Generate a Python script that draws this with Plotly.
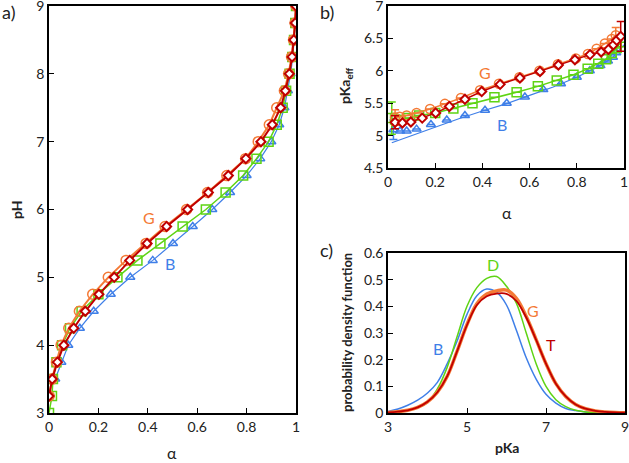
import plotly.graph_objects as go

# ---------------- data ----------------
# panel a: pH vs alpha
pH_levels = [3.0, 3.25, 3.5, 3.75, 4.0, 4.25, 4.5, 4.75, 5.0, 5.25, 5.5, 5.75, 6.0,
             6.25, 6.5, 6.75, 7.0, 7.25, 7.5, 7.75, 8.0, 8.25, 8.5, 8.75, 9.0]
a_B = [None, None, 0.025, 0.05, 0.078, 0.125, 0.181, 0.25, 0.329, 0.42, 0.502, 0.582, 0.661,
       0.733, 0.80, 0.855, 0.90, 0.932, 0.953, 0.967, 0.978, 0.987, 0.993, 0.997, 1.0]
a_D = [0.0, 0.012, 0.016, 0.03, 0.053, 0.085, 0.132, 0.2, 0.277, 0.358, 0.451, 0.541, 0.635,
       0.715, 0.786, 0.84, 0.889, 0.922, 0.946, 0.96, 0.974, 0.985, 0.992, 0.997, 1.0]
a_G = [None, 0.001, 0.012, 0.03, 0.049, 0.08, 0.123, 0.177, 0.24, 0.312, 0.393, 0.47, 0.557,
       0.642, 0.72, 0.796, 0.847, 0.892, 0.922, 0.953, 0.97, 0.982, 0.99, 0.996, 1.0]
a_T = [None, 0.0, 0.013, 0.034, 0.06, 0.10, 0.147, 0.202, 0.264, 0.327, 0.397, 0.476, 0.561,
       0.645, 0.726, 0.797, 0.858, 0.904, 0.938, 0.957, 0.973, 0.984, 0.991, 0.997, 1.0]

# panel b: pKa_eff vs alpha
b_B_a = [0.023, 0.051, 0.079, 0.121, 0.182, 0.249, 0.326, 0.411, 0.503, 0.58, 0.658, 0.733,
         0.80, 0.855, 0.90, 0.932, 0.953, 0.967]
b_B_v = [5.09, 5.07, 5.07, 5.10, 5.17, 5.24, 5.31, 5.39, 5.50, 5.595, 5.71, 5.80,
         5.90, 6.0, 6.08, 6.15, 6.21, 6.28]
b_B_err = [0.15] + [None] * 17
b_Bfit_a = [0.016, 0.1, 0.2, 0.3, 0.4, 0.5, 0.6, 0.7, 0.8, 0.9, 0.95, 1.0]
b_Bfit_v = [4.89, 5.0, 5.13, 5.26, 5.38, 5.49, 5.62, 5.75, 5.9, 6.08, 6.2, 6.4]

b_D_a = [0.016, 0.03, 0.053, 0.085, 0.132, 0.2, 0.277, 0.358, 0.451, 0.545, 0.635, 0.715,
         0.786, 0.846, 0.891, 0.924, 0.948, 0.969, 0.985]
b_D_v = [5.27, 5.25, 5.24, 5.27, 5.31, 5.35, 5.42, 5.50, 5.59, 5.67, 5.76, 5.85,
         5.94, 6.03, 6.11, 6.18, 6.27, 6.35, 6.44]
b_D_err = [0.25] + [None] * 18

b_G_a = [0.03, 0.049, 0.079, 0.121, 0.178, 0.241, 0.309, 0.39, 0.47, 0.557, 0.642, 0.72,
         0.796, 0.847, 0.884, 0.919, 0.948, 0.965]
b_G_v = [5.28, 5.29, 5.31, 5.35, 5.41, 5.49, 5.58, 5.70, 5.80, 5.90, 6.00, 6.10,
         6.19, 6.26, 6.34, 6.42, 6.49, 6.55]
b_G_err = [0.12] + [None] * 16 + [0.12]

b_T_a = [0.030, 0.061, 0.097, 0.145, 0.202, 0.26, 0.326, 0.397, 0.475, 0.559, 0.644, 0.722,
         0.792, 0.856, 0.903, 0.934, 0.955, 0.969, 0.986]
b_T_v = [5.205, 5.195, 5.21, 5.27, 5.35, 5.45, 5.56, 5.68, 5.79, 5.89, 5.99, 6.09,
         6.17, 6.25, 6.29, 6.33, 6.40, 6.47, 6.53]
b_T_err = [0.1] + [None] * 17 + [0.23]

# panel c: probability density function vs pKa
pKa_grid = [3.0, 3.25, 3.5, 3.75, 4.0, 4.25, 4.5, 4.75, 5.0, 5.25, 5.5, 5.75, 6.0,
            6.25, 6.5, 6.75, 7.0, 7.25, 7.5, 7.75, 8.0, 8.25, 8.5, 8.75, 9.0]
pdf_B = [0.006, 0.015, 0.029, 0.048, 0.075, 0.115, 0.185, 0.27, 0.37, 0.44, 0.465, 0.453, 0.405,
         0.31, 0.207, 0.127, 0.07, 0.037, 0.017, 0.009, 0.004, 0.002, 0.001, 0.0, 0.0]
pdf_D = [0.002, 0.005, 0.01, 0.02, 0.04, 0.09, 0.172, 0.287, 0.40, 0.47, 0.505, 0.512, 0.475,
         0.412, 0.30, 0.185, 0.10, 0.05, 0.024, 0.01, 0.004, 0.002, 0.001, 0.0, 0.0]
pdf_G = [0.002, 0.005, 0.01, 0.021, 0.042, 0.078, 0.138, 0.232, 0.332, 0.41, 0.446, 0.458, 0.461,
         0.43, 0.362, 0.275, 0.185, 0.11, 0.062, 0.032, 0.016, 0.008, 0.004, 0.002, 0.001]
pdf_T = [0.002, 0.005, 0.01, 0.021, 0.042, 0.078, 0.138, 0.232, 0.33, 0.405, 0.438, 0.448, 0.447,
         0.42, 0.358, 0.274, 0.185, 0.11, 0.062, 0.032, 0.016, 0.008, 0.004, 0.002, 0.001]

# ---------------- style ----------------
C_B = "#3f7fe8"
C_D = "#5ed414"
C_G = "#f47a36"
C_T = "#c00000"
FONT = "Lato"
W, H = 629, 463

fig = go.Figure()

def err(arr, color):
    return dict(type="data", array=arr, visible=True, color=color, thickness=1.5, width=4)

# ---- panel a ----
fig.add_trace(go.Scatter(x=a_B, y=pH_levels, mode="lines+markers", xaxis="x", yaxis="y",
                         line=dict(color=C_B, width=1.2),
                         marker=dict(symbol="triangle-up-open", size=8, color=C_B, line=dict(width=1.5))))
fig.add_trace(go.Scatter(x=a_D, y=pH_levels, mode="lines+markers", xaxis="x", yaxis="y",
                         line=dict(color=C_D, width=1.5),
                         marker=dict(symbol="square-open", size=9, color=C_D, line=dict(width=1.5))))
fig.add_trace(go.Scatter(x=a_G, y=pH_levels, mode="lines+markers", xaxis="x", yaxis="y",
                         line=dict(color=C_G, width=2),
                         marker=dict(symbol="circle-open", size=10, color=C_G, line=dict(width=1.5))))
fig.add_trace(go.Scatter(x=a_T, y=pH_levels, mode="lines+markers", xaxis="x", yaxis="y",
                         line=dict(color=C_T, width=2),
                         marker=dict(symbol="diamond", size=7, color="white", line=dict(width=2, color=C_T))))

# ---- panel b ----
fig.add_trace(go.Scatter(x=b_Bfit_a, y=b_Bfit_v, mode="lines", xaxis="x2", yaxis="y2",
                         line=dict(color=C_B, width=1.2)))
fig.add_trace(go.Scatter(x=b_B_a, y=b_B_v, mode="markers", xaxis="x2", yaxis="y2",
                         error_y=err(b_B_err, C_B),
                         marker=dict(symbol="triangle-up-open", size=8, color=C_B, line=dict(width=1.5))))
fig.add_trace(go.Scatter(x=b_D_a, y=b_D_v, mode="lines+markers", xaxis="x2", yaxis="y2",
                         error_y=err(b_D_err, C_D),
                         line=dict(color=C_D, width=1.5),
                         marker=dict(symbol="square-open", size=9, color=C_D, line=dict(width=1.5))))
fig.add_trace(go.Scatter(x=b_G_a, y=b_G_v, mode="lines+markers", xaxis="x2", yaxis="y2",
                         error_y=err(b_G_err, C_G),
                         line=dict(color=C_G, width=1.5),
                         marker=dict(symbol="circle-open", size=9, color=C_G, line=dict(width=1.5))))
fig.add_trace(go.Scatter(x=b_T_a, y=b_T_v, mode="lines+markers", xaxis="x2", yaxis="y2",
                         error_y=err(b_T_err, C_T),
                         line=dict(color=C_T, width=1.5),
                         marker=dict(symbol="diamond", size=7, color="white", line=dict(width=2, color=C_T))))

# ---- panel c ----
fig.add_trace(go.Scatter(x=pKa_grid, y=pdf_B, mode="lines", xaxis="x3", yaxis="y3",
                         line=dict(color=C_B, width=1.5, shape="spline")))
fig.add_trace(go.Scatter(x=pKa_grid, y=pdf_D, mode="lines", xaxis="x3", yaxis="y3",
                         line=dict(color=C_D, width=1.5, shape="spline")))
fig.add_trace(go.Scatter(x=pKa_grid, y=pdf_G, mode="lines", xaxis="x3", yaxis="y3",
                         line=dict(color=C_G, width=3.5, shape="spline")))
fig.add_trace(go.Scatter(x=pKa_grid, y=pdf_T, mode="lines", xaxis="x3", yaxis="y3",
                         line=dict(color=C_T, width=1.8, shape="spline")))

def px_x(p):
    return p / W

def px_y(p):
    return 1 - p / H

axis_common = dict(showline=True, linecolor="black", linewidth=1.5, mirror=True,
                   ticks="inside", ticklen=5, tickwidth=1.2, tickcolor="black",
                   showgrid=False, zeroline=False, automargin=False,
                   ticklabeloverflow="allow",
                   tickfont=dict(family=FONT, size=14, color="#222"))

fig.update_layout(
    width=W, height=H, margin=dict(l=0, r=0, t=0, b=0, autoexpand=False),
    paper_bgcolor="white", plot_bgcolor="white", showlegend=False,
    font=dict(family=FONT, color="#222"),
    xaxis=dict(domain=[px_x(49), px_x(296)], range=[0, 1], anchor="y",
               tickvals=[0, 0.2, 0.4, 0.6, 0.8, 1], ticktext=["0", "0.2", "0.4", "0.6", "0.8", "1"],
               **axis_common),
    yaxis=dict(domain=[px_y(413), px_y(6)], range=[3, 9], anchor="x", dtick=1, **axis_common),
    xaxis2=dict(domain=[px_x(388), px_x(624)], range=[0, 1], anchor="y2",
                tickvals=[0, 0.2, 0.4, 0.6, 0.8, 1], ticktext=["0", "0.2", "0.4", "0.6", "0.8", "1"],
                **axis_common),
    yaxis2=dict(domain=[px_y(168), px_y(6)], range=[4.5, 7], anchor="x2",
                tickvals=[4.5, 5, 5.5, 6, 6.5, 7], ticktext=["4.5", "5", "5.5", "6", "6.5", "7"],
                **axis_common),
    xaxis3=dict(domain=[px_x(388), px_x(625)], range=[3, 9], anchor="y3",
                tickvals=[3, 5, 7, 9], **axis_common),
    yaxis3=dict(domain=[px_y(413), px_y(253)], range=[0, 0.6], anchor="x3",
                tickvals=[0, 0.1, 0.2, 0.3, 0.4, 0.5, 0.6],
                ticktext=["0", "0.1", "0.2", "0.3", "0.4", "0.5", "0.6"], **axis_common),
)

def ann(text, x, y, size=14, color="#222", bold=False, angle=0, xanchor="center"):
    t = f"<b>{text}</b>" if bold else text
    fig.add_annotation(text=t, x=px_x(x), y=px_y(y), xref="paper", yref="paper",
                       showarrow=False, xanchor=xanchor, yanchor="middle", textangle=angle,
                       font=dict(family=FONT, size=size, color=color))

# panel letters
ann("a)", 0, 12, size=18, xanchor="left")
ann("b)", 327, 12, size=18)
ann("c)", 326, 250, size=18)
# axis titles
ann("pH", 16, 210, size=14, bold=True, angle=-90)
ann("α", 172, 452, size=16)
ann("pKa<sub>eff</sub>", 346, 86, size=14, bold=True, angle=-90)
ann("α", 507, 212, size=16)
ann("probability density function", 347, 333, size=13, bold=True, angle=-90)
ann("pKa", 507, 447, size=14, bold=True)
# series labels
ann("G", 149, 217, size=16, color=C_G)
ann("B", 170, 263, size=16, color=C_B)
ann("G", 485, 72, size=16, color=C_G)
ann("B", 502, 125, size=16, color=C_B)
ann("D", 493, 264, size=16, color=C_D)
ann("G", 533, 310, size=16, color=C_G)
ann("T", 551, 344, size=16, color=C_T)
ann("B", 438, 348, size=16, color=C_B)

# remove the page's default body margin so the figure sits at the window origin
fig.write_html("out.html", config={"displayModeBar": False},
               post_script="document.body.style.margin='0px';")
